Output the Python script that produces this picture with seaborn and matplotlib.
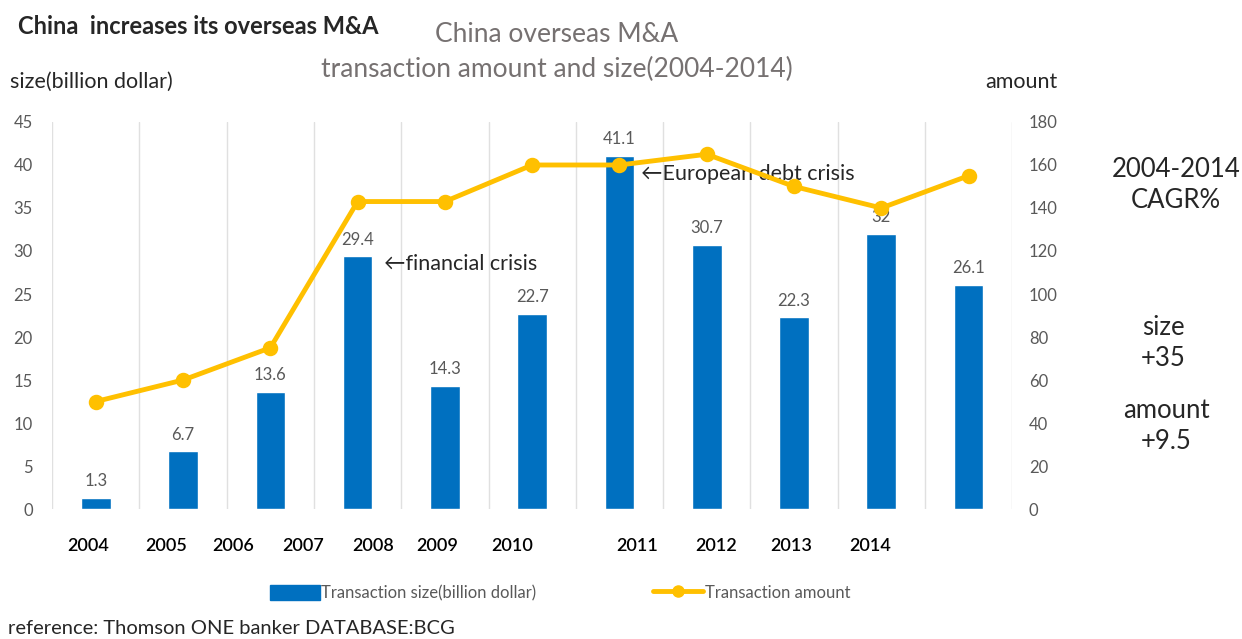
import matplotlib
matplotlib.use("Agg")
import matplotlib.pyplot as plt
from matplotlib.patches import Patch
from matplotlib.lines import Line2D
import pandas as pd
import seaborn as sns

# chart data
years = ["2004", "2005", "2006", "2007", "2008", "2009", "2010", "2011", "2012", "2013", "2014"]
size_bn = [1.3, 6.7, 13.6, 29.4, 14.3, 22.7, 41.1, 30.7, 22.3, 32, 26.1]
amount = [50, 60, 75, 143, 143, 160, 160, 165, 150, 140, 155]
size_labels = ["1.3", "6.7", "13.6", "29.4", "14.3", "22.7", "41.1", "30.7", "22.3", "32", "26.1"]

BLUE = "#0070C0"
GOLD = "#FFC000"
GREY = "#595959"

sns.set_style("white")
plt.rcParams["font.family"] = ["Lato", "DejaVu Sans"]

df = pd.DataFrame({"year": years, "size": size_bn, "amount": amount})

fig = plt.figure(figsize=(12.42, 6.39), dpi=100)
ax = fig.add_axes([0.042, 0.2034, 0.773, 0.6057])

sns.barplot(data=df, x="year", y="size", color=BLUE, width=0.34,
            saturation=1, ax=ax, order=years)
ax.set_ylim(0, 45)
ax.set_yticks(range(0, 46, 5))
ax.set_xlim(-0.5, len(years) - 0.5)
ax.set_xlabel("")
ax.set_ylabel("")
ax.set_xticks([])
ax.tick_params(axis="y", colors=GREY, labelsize=12, length=0, pad=14)
for s in ax.spines.values():
    s.set_visible(False)

# vertical separators between categories
for k in range(len(years) + 1):
    ax.axvline(k - 0.5, color="#E0E0E0", lw=1, zorder=0)

for i, lab in enumerate(size_labels):
    ax.text(i, size_bn[i] + 1.0, lab, ha="center", va="bottom", color=GREY, fontsize=12)

ax2 = ax.twinx()
sns.pointplot(data=df, x="year", y="amount", order=years, color=GOLD,
              markers="o", markersize=8.5, linewidth=3.5, ax=ax2)
ax2.set_ylim(0, 180)
ax2.set_yticks(range(0, 181, 20))
ax2.set_xlim(-0.5, len(years) - 0.5)
ax2.set_ylabel("")
ax2.set_xlabel("")
ax2.tick_params(axis="y", colors=GREY, labelsize=12, length=0, pad=12)
for s in ax2.spines.values():
    s.set_visible(False)

# year labels (placed as in the original, not under the bars)
year_label_px = [88, 166, 233, 303, 373, 437, 512, 637, 716, 791, 870]
for px, y in zip(year_label_px, years):
    fig.text(px / 1242, 1 - 546 / 639, y, ha="center", va="center",
             fontsize=13, color="black", fontweight="semibold")

# annotations
ax.text(3.3, 28.5, "\u2190financial crisis", fontsize=15.5, va="center", ha="left")
ax.text(6.25, 39.0, "\u2190European debt crisis", fontsize=15.5, va="center", ha="left")

# titles and side notes
fig.text(18 / 1242, 1 - 27 / 639, "China  increases its overseas M&A", fontsize=17,
         fontweight="bold", va="center", ha="left")
fig.text(557 / 1242, 1 - 34 / 639, "China overseas M&A",
         fontsize=19, color="#767171", ha="center", va="center")
fig.text(557 / 1242, 1 - 69 / 639, "transaction amount and size(2004-2014)",
         fontsize=19, color="#767171", ha="center", va="center")
fig.text(10 / 1242, 1 - 82 / 639, "size(billion dollar)", fontsize=15.5, va="center", ha="left")
fig.text(1057 / 1242, 1 - 82 / 639, "amount", fontsize=15.5, va="center", ha="right")
fig.text(1176 / 1242, 1 - 185 / 639, "2004-2014\nCAGR%", fontsize=18.5, ha="center", va="center",
         linespacing=1.3)
fig.text(1163 / 1242, 1 - 343 / 639, "size\n+35", fontsize=18.5, ha="center", va="center",
         linespacing=1.3)
fig.text(1166 / 1242, 1 - 426 / 639, "amount\n+9.5", fontsize=18.5, ha="center", va="center",
         linespacing=1.3)
fig.text(8 / 1242, 1 - 628 / 639, "reference: Thomson ONE banker DATABASE:BCG", fontsize=14.5,
         va="center", ha="left")

# legend
handles = [Patch(color=BLUE, label="Transaction size(billion dollar)"),
           Line2D([], [], color=GOLD, lw=3.5, marker="o", markersize=8,
                  label="Transaction amount")]
leg = fig.legend(handles=handles, loc="center", bbox_to_anchor=(560 / 1242, 1 - 593 / 639),
                 ncol=2, frameon=False, fontsize=12, handlelength=3.0,
                 handleheight=1.0, columnspacing=7, handletextpad=0.1)
for t in leg.get_texts():
    t.set_color(GREY)

fig.savefig("out.png", dpi=100)
